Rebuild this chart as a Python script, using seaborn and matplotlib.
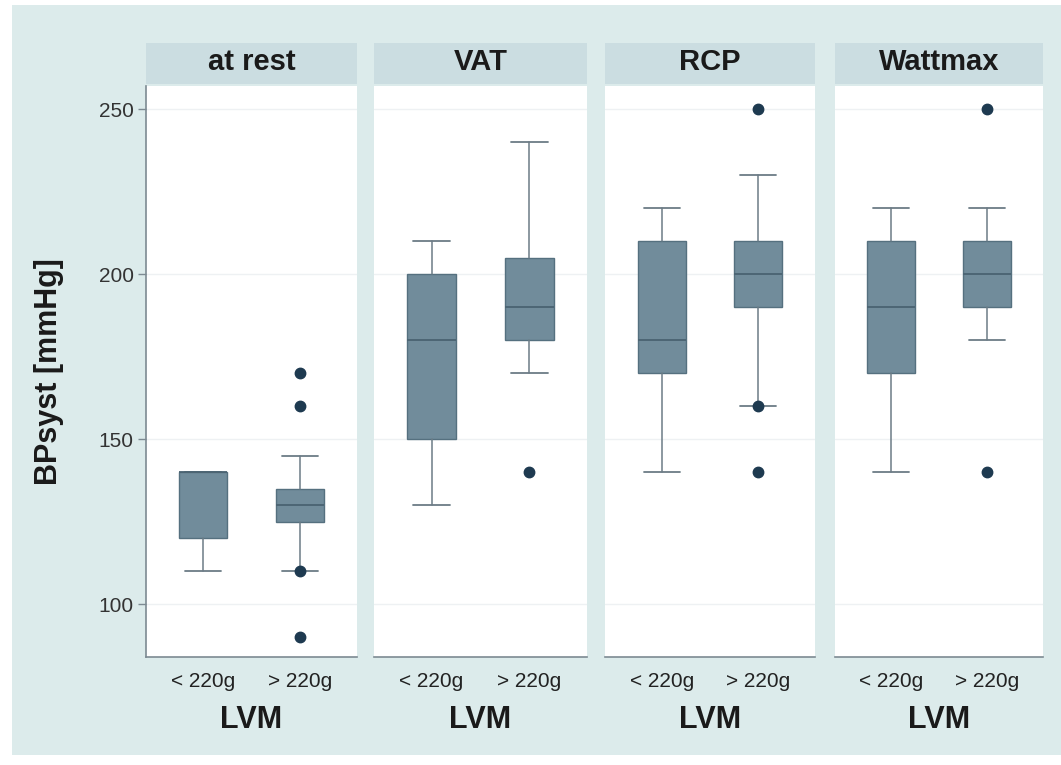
import numpy as np
import pandas as pd
import seaborn as sns
import matplotlib.pyplot as plt
from matplotlib.patches import Rectangle

# ---- data ----
phases = ["at rest", "VAT", "RCP", "Wattmax"]
groups = ["< 220g", "> 220g"]
# per phase, per group: whisker low, q1, median, q3, whisker high
whislo = [[110, 110], [130, 170], [140, 160], [140, 180]]
q1     = [[120, 125], [150, 180], [170, 190], [170, 190]]
median = [[140, 130], [180, 190], [180, 200], [190, 200]]
q3     = [[140, 135], [200, 205], [210, 210], [210, 210]]
whishi = [[140, 145], [210, 240], [220, 230], [220, 220]]
outliers = [[[], [90, 110, 160, 170]],
            [[], [140]],
            [[], [140, 160, 250]],
            [[], [140, 250]]]
yticks = [100, 150, 200, 250]

rows = []
for i, p in enumerate(phases):
    for j, g in enumerate(groups):
        rows.append(dict(phase=p, LVM=g, pos=j, whislo=whislo[i][j], q1=q1[i][j],
                         med=median[i][j], q3=q3[i][j], whishi=whishi[i][j],
                         fliers=outliers[i][j]))
df = pd.DataFrame(rows)

sns.set_theme(style="white")
plt.rcParams['font.family'] = ['Liberation Sans', 'DejaVu Sans']

BG = "#dcebeb"
STRIP = "#cbdde1"
BOX = "#718c9b"
BOXEDGE = "#55707f"
LINE = "#6c7c86"
DOT = "#1e3a50"

g = sns.FacetGrid(df, col="phase", col_order=phases, sharey=True, sharex=True,
                  height=7.65, aspect=1)
fig = g.figure
fig.set_size_inches(10.61, 7.65)
fig.set_dpi(100)
fig.patch.set_facecolor("white")
fig.patches.append(Rectangle((12/1061, 1 - 755/765), 1 - 12/1061, (755 - 5)/765,
                             transform=fig.transFigure, facecolor=BG,
                             edgecolor="none", zorder=-10))

def draw(data, **kw):
    ax = plt.gca()
    stats = []
    for _, r in data.iterrows():
        stats.append(dict(whislo=r.whislo, q1=r.q1, med=r.med, q3=r.q3,
                          whishi=r.whishi, fliers=r.fliers, label=r.LVM))
    ax.bxp(stats, positions=list(data.pos), widths=0.5, patch_artist=True,
           showfliers=True,
           boxprops=dict(facecolor=BOX, edgecolor=BOXEDGE, linewidth=1.0),
           medianprops=dict(color="#4a6372", linewidth=1.3),
           whiskerprops=dict(color=LINE, linewidth=1.1),
           capprops=dict(color=LINE, linewidth=1.3),
           capwidths=0.37,
           flierprops=dict(marker="o", markerfacecolor=DOT, markeredgecolor=DOT,
                           markersize=7.5),
           zorder=3)

g.map_dataframe(draw)

left_px = [146, 374, 605, 835]
right_px = [357, 587, 815, 1043]
top_px, bot_px = 86, 657
W, H = 1061, 765
for k, ax in enumerate(g.axes.flat):
    ax.set_position([left_px[k]/W, 1 - bot_px/H, (right_px[k]-left_px[k])/W, (bot_px-top_px)/H])
    ax.set_facecolor("white")
    ax.set_xlim(-0.587, 1.587)
    ax.set_ylim(84, 257)
    ax.set_yticks(yticks)
    for y in yticks:
        ax.axhline(y, color="#eef1f3", linewidth=1.0, zorder=0)
    ax.set_xticks([0, 1])
    ax.set_xticklabels(groups, fontsize=15, color="#222222")
    ax.tick_params(axis="x", length=0, pad=11)
    ax.set_xlabel("LVM", fontsize=22, fontweight="bold", color="#1a1a1a", labelpad=10)
    ax.set_title("")
    for s in ["top", "right"]:
        ax.spines[s].set_visible(False)
    ax.spines["bottom"].set_color("#7d8a92")
    ax.spines["bottom"].set_linewidth(1.2)
    if k == 0:
        ax.spines["left"].set_color("#7d8a92")
        ax.spines["left"].set_linewidth(1.2)
        ax.tick_params(axis="y", length=6, width=1, color="#7d8a92",
                       labelsize=15, labelcolor="#333333", pad=3, left=True)
        ax.set_ylabel("BPsyst [mmHg]", fontsize=22, fontweight="bold",
                      color="#1a1a1a", labelpad=25)
    else:
        ax.spines["left"].set_visible(False)
        ax.tick_params(axis="y", left=False, labelleft=False)
        ax.set_ylabel("")
    # header strip
    fig.patches.append(Rectangle((left_px[k]/W, 1 - 84/H), (right_px[k]-left_px[k])/W, (84-43)/H,
                                 transform=fig.transFigure, facecolor=STRIP,
                                 edgecolor="none", zorder=-5))
    fig.text((left_px[k] + right_px[k]) / 2 / W, 1 - 62/H, phases[k],
             ha="center", va="center", fontsize=21, fontweight="bold", color="#1a1a1a")

fig.savefig("out.png", dpi=100, facecolor=fig.get_facecolor())
